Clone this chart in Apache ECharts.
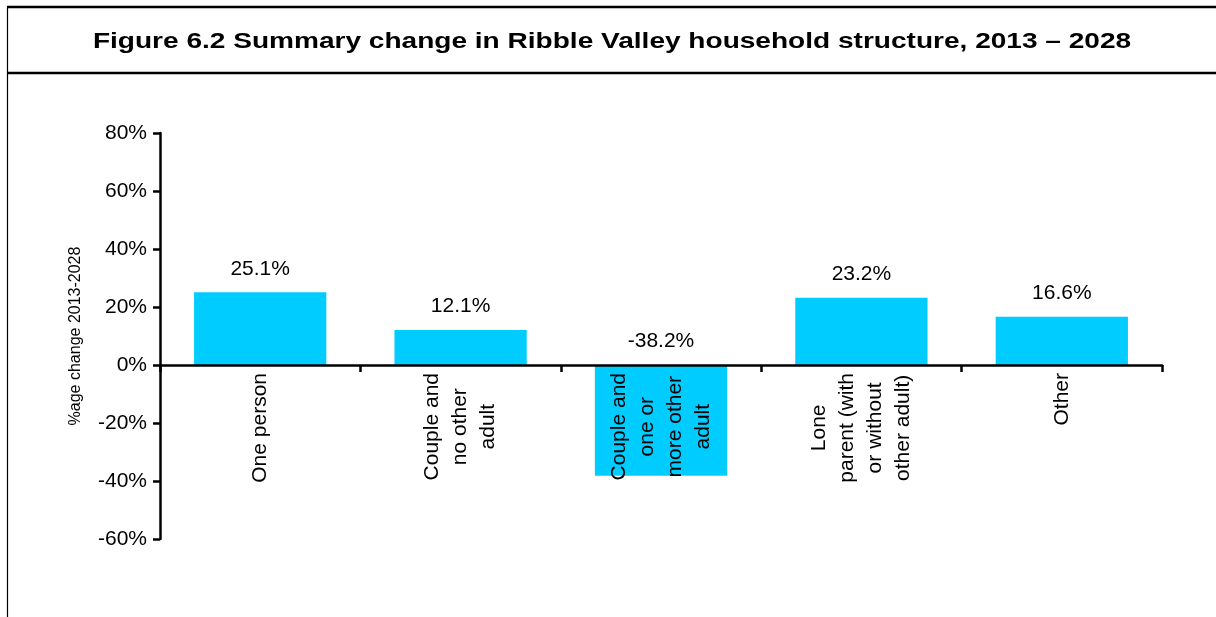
<!DOCTYPE html>
<html>
<head>
<meta charset="utf-8">
<script src="https://cdn.jsdelivr.net/npm/echarts@6/dist/echarts.min.js"></script>
<style>
html,body{margin:0;padding:0;background:#fff;}
#chart{width:1216px;height:617px;}
</style>
</head>
<body>
<div id="chart"></div>
<script>
const categories = ['One person', 'Couple and\nno other\nadult', 'Couple and\none or\nmore other\nadult', 'Lone\nparent (with\nor without\nother adult)', 'Other'];
const values = [25.1, 12.1, -38.2, 23.2, 16.6];
const yTicks = { min: -60, max: 80, interval: 20 };
const titleText = 'Figure 6.2 Summary change in Ribble Valley household structure, 2013 \u2013 2028';
const yAxisName = '%age change 2013-2028';

const gridTop = 133, gridBottom = 78, H = 617;
const gridHeight = H - gridTop - gridBottom;
const zeroOffset = -gridHeight * (0 - yTicks.min) / (yTicks.max - yTicks.min);

const chart = echarts.init(document.getElementById('chart'), null, { renderer: 'canvas' });
const font = '"Liberation Sans", Arial, sans-serif';
chart.setOption({
  animation: false,
  backgroundColor: '#fff',
  textStyle: { fontFamily: font },
  graphic: [
    { type: 'line', shape: { x1: 7, y1: 7, x2: 1216, y2: 7 }, style: { stroke: '#000', lineWidth: 2.5 } },
    { type: 'line', shape: { x1: 7, y1: 73, x2: 1216, y2: 73 }, style: { stroke: '#000', lineWidth: 2.5 } },
    { type: 'line', shape: { x1: 7.5, y1: 7, x2: 7.5, y2: 617 }, style: { stroke: '#000', lineWidth: 1.2 } },
    {
      type: 'text', x: 612, y: 42, scaleX: 1.275, scaleY: 1,
      style: {
        text: titleText, fontFamily: font, fontSize: 22, fontWeight: 'bold', fill: '#000',
        align: 'center', verticalAlign: 'middle'
      }
    }
  ],
  grid: { left: 160, right: 54, top: gridTop, bottom: gridBottom, containLabel: false, outerBoundsMode: 'none' },
  xAxis: {
    type: 'category',
    data: categories,
    position: 'bottom',
    offset: zeroOffset,
    z: 10,
    axisLine: { onZero: false, lineStyle: { color: '#000', width: 2.5 } },
    axisTick: { show: true, length: 7, lineStyle: { color: '#000', width: 2.5 } },
    axisLabel: {
      rotate: 90,
      interval: 0,
      margin: 8,
      fontSize: 21,
      lineHeight: 28,
      color: '#000',
      fontFamily: font,
      align: 'right',
      verticalAlign: 'middle',
      formatter: function (v) {
        return v.split('\n').map(function (s) { return '{c|' + s + '}'; }).join('\n');
      },
      rich: { c: { align: 'center', fontSize: 21, lineHeight: 28, fontFamily: font, color: '#000' } }
    }
  },
  yAxis: {
    type: 'value',
    min: yTicks.min,
    max: yTicks.max,
    interval: yTicks.interval,
    name: yAxisName,
    nameLocation: 'middle',
    nameGap: 76,
    nameRotate: 90,
    nameTextStyle: { fontSize: 16, color: '#000', fontFamily: font },
    z: 10,
    axisLine: { show: true, lineStyle: { color: '#000', width: 2.5 } },
    axisTick: { show: true, length: 7, lineStyle: { color: '#000', width: 2.5 } },
    splitLine: { show: false },
    axisLabel: {
      formatter: '{value}%',
      fontSize: 21,
      margin: 13,
      color: '#000',
      fontFamily: font
    }
  },
  series: [{
    type: 'bar',
    data: values,
    barCategoryGap: '34%',
    itemStyle: { color: '#00CCFF' },
    label: {
      show: true,
      position: 'top',
      distance: 13,
      formatter: function (p) { return p.value.toFixed(1) + '%'; },
      fontSize: 21,
      color: '#000',
      fontFamily: font
    }
  }]
});
</script>
</body>
</html>
